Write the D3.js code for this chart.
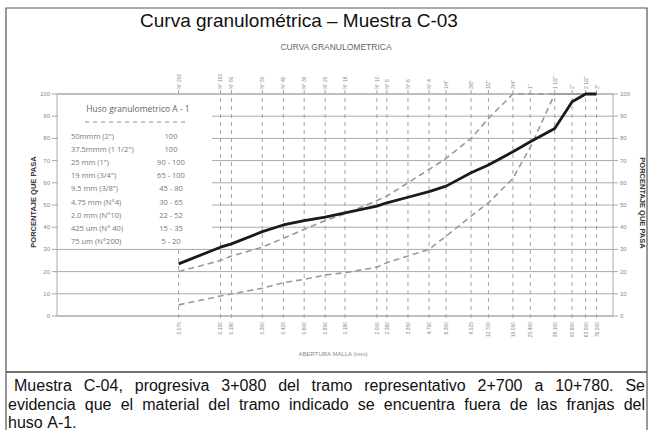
<!DOCTYPE html>
<html>
<head>
<meta charset="utf-8">
<script src="https://cdn.jsdelivr.net/npm/d3@7"></script>
<style>
  body { margin: 0; background: #fff; }
  svg { display: block; }
</style>
</head>
<body>
<svg width="651" height="430"></svg>
<script>
// sieve openings (mm) and names
var sieves = [0.075, 0.150, 0.180, 0.300, 0.425, 0.600, 0.850, 1.180, 2.000, 2.360, 3.350, 4.750, 6.300, 9.525, 12.700, 19.050, 25.400, 38.100, 50.800, 63.500, 76.200];
var sieveNames = ["N° 200", "N° 100", "N° 80", "N° 50", "N° 40", "N° 30", "N° 20", "N° 16", "N° 10", "N° 8", "N° 6", "N° 4", "1/4\"", "3/8\"", "1/2\"", "3/4\"", "1\"", "1 1/2\"", "2\"", "2 1/2\"", "3\""];

// % passing
var muestra = [23.5, 31, 32.5, 38, 41, 43, 44.5, 46.5, 49.5, 51, 53.5, 56, 58.5, 64.5, 68, 74, 78.5, 84.5, 96.5, 100, 100];
var husoMin = [5, 9, 10, 12.5, 15, 16.5, 18.5, 19.5, 22, 24, 27, 30, 36, 45, 51, 62, 76, 100, 100, 100, 100];
var husoMax = [20, 25, 27, 31, 35, 39, 43, 46, 52, 54, 60, 66, 71, 80, 89, 100, 100, 100, 100, 100, 100];

var yTicks = [0, 10, 20, 30, 40, 50, 60, 70, 80, 90, 100];

var legendSizes = ["50mmm (2\")", "37.5mmm (1 1/2\")", "25 mm (1\")", "19 mm (3/4\")", "9.5 mm (3/8\")", "4.75 mm (N°4)", "2.0 mm (N°10)", "425 um (N° 40)", "75 um (N°200)"];
var legendRanges = ["100", "100", "90 - 100", "65 - 100", "45 - 80", "30 - 65", "22 - 52", "15 - 35", "5 - 20"];

var captionLines = [
  "Muestra C-04, progresiva 3+080 del tramo representativo 2+700 a 10+780. Se",
  "evidencia que el material del tramo indicado se encuentra fuera de las franjas del",
  "huso A-1."
];

var svg = d3.select("svg");
var font = "'Liberation Sans', Arial, sans-serif";

// outer frame
svg.append("path")
  .attr("d", "M6,430 V8 H647 V430")
  .attr("fill", "none").attr("stroke", "#555").attr("stroke-width", 1.2);
svg.append("line")
  .attr("x1", 6).attr("x2", 647).attr("y1", 372).attr("y2", 372)
  .attr("stroke", "#444").attr("stroke-width", 1.5);

svg.append("text")
  .attr("x", 299).attr("y", 27)
  .attr("text-anchor", "middle")
  .style("font-family", font).style("font-size", "19px").attr("fill", "#111")
  .text("Curva granulométrica – Muestra C-03");

svg.append("text")
  .attr("x", 336).attr("y", 50)
  .attr("text-anchor", "middle")
  .style("font-family", font).style("font-size", "8.5px").attr("fill", "#666")
  .text("CURVA GRANULOMETRICA");

var x = d3.scaleLog().domain([0.01, 100]).range([57, 613]);
var y = d3.scaleLinear().domain([0, 100]).range([316, 94]);

var g = svg.append("g");

// horizontal grid
g.selectAll(".hgrid").data(yTicks).join("line")
  .attr("x1", 52).attr("x2", 618)
  .attr("y1", d => y(d)).attr("y2", d => y(d))
  .attr("stroke", "#aaa").attr("stroke-width", 1);

// vertical dashed grid
g.selectAll(".vgrid").data(sieves).join("line")
  .attr("x1", d => x(d)).attr("x2", d => x(d))
  .attr("y1", y(100) - 4).attr("y2", y(0) + 4)
  .attr("stroke", "#999").attr("stroke-width", 0.9)
  .attr("stroke-dasharray", "4,4");

// frame
g.append("rect")
  .attr("x", 57).attr("y", y(100))
  .attr("width", 556).attr("height", y(0) - y(100))
  .attr("fill", "none").attr("stroke", "#aaa");

// y labels
g.selectAll(".yl").data(yTicks).join("text")
  .attr("x", 50).attr("y", d => y(d) + 2)
  .attr("text-anchor", "end")
  .style("font-family", font).style("font-size", "6px").attr("fill", "#888")
  .text(d => d);
g.selectAll(".yr").data(yTicks).join("text")
  .attr("x", 620).attr("y", d => y(d) + 2)
  .style("font-family", font).style("font-size", "6px").attr("fill", "#888")
  .text(d => d);

// axis titles
svg.append("text")
  .attr("transform", "translate(36,202) rotate(-90)")
  .attr("text-anchor", "middle")
  .style("font-family", font).style("font-size", "7.5px").style("font-weight", "bold").attr("fill", "#333")
  .text("PORCENTAJE QUE PASA");
svg.append("text")
  .attr("transform", "translate(640,203) rotate(90)")
  .attr("text-anchor", "middle")
  .style("font-family", font).style("font-size", "7.5px").style("font-weight", "bold").attr("fill", "#333")
  .text("PORCENTAJE QUE PASA");

// sieve names on top
g.selectAll(".tn").data(sieves).join("text")
  .attr("transform", d => "translate(" + (x(d) + 2) + ",89) rotate(-90)")
  .style("font-family", font).style("font-size", "5px").attr("fill", "#888")
  .text((d, i) => sieveNames[i]);

// openings at bottom
g.selectAll(".bn").data(sieves).join("text")
  .attr("transform", d => "translate(" + (x(d) + 2) + ",322) rotate(-90)")
  .attr("text-anchor", "end")
  .style("font-family", font).style("font-size", "5px").attr("fill", "#888")
  .text(d => d3.format(".3f")(d));

svg.append("text")
  .attr("x", 333).attr("y", 356)
  .attr("text-anchor", "middle")
  .style("font-family", font).style("font-size", "6px").attr("fill", "#888")
  .text("ABERTURA MALLA (mm)");

// legend table (white box)
var lg = svg.append("g");
lg.append("rect").attr("x", 58).attr("y", 95).attr("width", 154).attr("height", 152).attr("fill", "#fff");
lg.append("text")
  .attr("x", 138).attr("y", 112).attr("text-anchor", "middle")
  .style("font-family", "'Open Sans', sans-serif").style("font-size", "8.5px").attr("fill", "#666")
  .text("Huso granulometrico A - 1");
lg.append("line")
  .attr("x1", 85).attr("x2", 189).attr("y1", 122).attr("y2", 122)
  .attr("stroke", "#888").attr("stroke-dasharray", "4,4");
lg.selectAll(".ls").data(legendSizes).join("text")
  .attr("x", 71).attr("y", (d, i) => 139 + i * 13.1)
  .style("font-family", "'Open Sans', sans-serif").style("font-size", "7.5px").attr("fill", "#777")
  .text(d => d);
lg.selectAll(".lr").data(legendRanges).join("text")
  .attr("x", 171).attr("y", (d, i) => 139 + i * 13.1)
  .attr("text-anchor", "middle")
  .style("font-family", "'Open Sans', sans-serif").style("font-size", "7.5px").attr("fill", "#777")
  .text(d => d);

// curves
var line = d3.line()
  .x((d, i) => x(sieves[i]))
  .y(d => y(d));

svg.append("path").datum(husoMin)
  .attr("fill", "none").attr("stroke", "#999").attr("stroke-width", 1.6)
  .attr("stroke-dasharray", "6,4").attr("d", line);
svg.append("path").datum(husoMax)
  .attr("fill", "none").attr("stroke", "#999").attr("stroke-width", 1.6)
  .attr("stroke-dasharray", "6,4").attr("d", line);
svg.append("path").datum(muestra)
  .attr("fill", "none").attr("stroke", "#1a1a1a").attr("stroke-width", 2.8)
  .attr("stroke-linejoin", "round").attr("d", line);

// caption, justified
function justify(text, y0, x0, x1, full) {
  var words = text.split(" ");
  var t = svg.append("g");
  var nodes = words.map(w => t.append("text")
    .attr("y", y0)
    .style("font-family", font).style("font-size", "16px").attr("fill", "#111")
    .text(w));
  var widths = nodes.map(n => n.node().getComputedTextLength());
  var total = d3.sum(widths);
  var gap = full ? (x1 - x0 - total) / (words.length - 1) : 4.5;
  var cx = x0;
  nodes.forEach((n, i) => { n.attr("x", cx); cx += widths[i] + gap; });
}
justify(captionLines[0], 391, 14, 645, true);
justify(captionLines[1], 410, 8, 645, true);
justify(captionLines[2], 428, 8, 645, false);
</script>
</body>
</html>
